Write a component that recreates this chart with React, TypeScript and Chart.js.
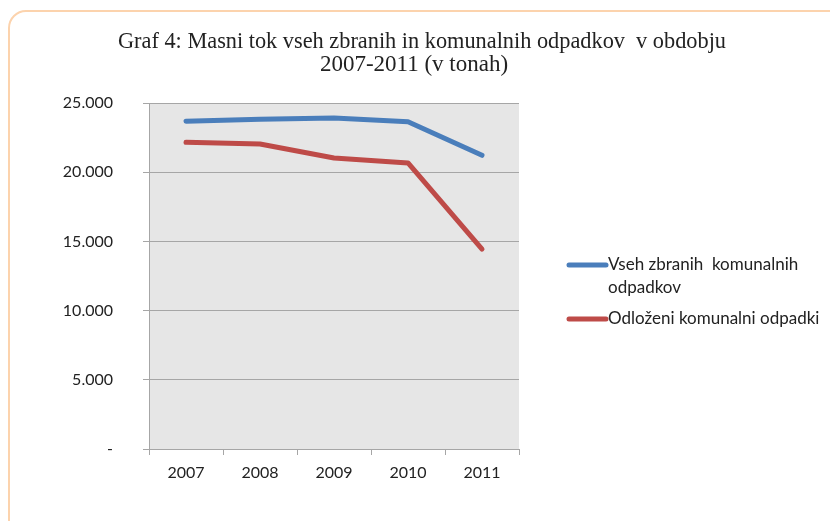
import React, { useEffect, useRef } from "react";
import { Chart, registerables } from "chart.js";

Chart.register(...registerables);

const categories = ["2007", "2008", "2009", "2010", "2011"];
const collectedLabel = "Vseh zbranih  komunalnih odpadkov";
const collected = [23680, 23820, 23920, 23640, 21220];
const landfilledLabel = "Odloženi komunalni odpadki";
const landfilled = [22160, 22040, 21030, 20670, 14450];
const titleLines = [
  "Graf 4: Masni tok vseh zbranih in komunalnih odpadkov  v obdobju",
  "2007-2011 (v tonah)",
];
const yMax = 25000;
const yStep = 5000;

const BLUE = "#4a7ebb";
const RED = "#be4b48";
const GRID = "#a6a6a6";
const TEXT = "#222222";
const FONT = "Lato";

function fmt(v: number): string {
  if (v === 0) return "-";
  return String(v).replace(/\B(?=(\d{3})+(?!\d))/g, ".");
}

const decorPlugin = {
  id: "decor",
  beforeDraw(chart: any) {
    const { ctx, chartArea } = chart;
    ctx.save();
    ctx.fillStyle = "#e6e6e6";
    ctx.fillRect(chartArea.left, chartArea.top, chartArea.right - chartArea.left, chartArea.bottom - chartArea.top);
    ctx.restore();
  },
  afterDraw(chart: any) {
    const { ctx } = chart;
    ctx.save();
    // title
    ctx.fillStyle = TEXT;
    ctx.font = `23px "Liberation Serif"`;
    ctx.textAlign = "center";
    ctx.textBaseline = "alphabetic";
    ctx.fillText(titleLines[0], 422, 48, 608);
    ctx.fillText(titleLines[1], 414, 71, 214);

    // legend
    ctx.font = `17px ${FONT}`;
    ctx.textAlign = "left";
    ctx.textBaseline = "middle";
    const items = chart.data.datasets.map((d: any) => ({ text: d.label, color: d.borderColor }));
    let y = 265;
    const maxW = 228;
    items.forEach((it: any) => {
      ctx.strokeStyle = it.color;
      ctx.lineWidth = 5;
      ctx.lineCap = "round";
      ctx.beginPath();
      ctx.moveTo(569, y);
      ctx.lineTo(606, y);
      ctx.stroke();
      const words = it.text.split(" ");
      const lines: string[] = [];
      let cur = "";
      words.forEach((w: string) => {
        const test = cur === "" ? w : cur + " " + w;
        if (ctx.measureText(test).width > maxW && cur !== "") {
          lines.push(cur);
          cur = w;
        } else cur = test;
      });
      if (cur) lines.push(cur);
      ctx.fillStyle = TEXT;
      lines.forEach((l, i) => ctx.fillText(l, 608, y + i * 23));
      y += (lines.length - 1) * 23 + 31;
    });
    ctx.restore();
  },
};

export default function App() {
  const ref = useRef<HTMLCanvasElement | null>(null);
  useEffect(() => {
    if (!ref.current) return;
    const chart = new Chart(ref.current, {
      type: "line",
      data: {
        labels: categories,
        datasets: [
          {
            label: collectedLabel,
            data: collected,
            borderColor: BLUE,
            backgroundColor: BLUE,
            borderWidth: 5,
            pointRadius: 0,
            borderCapStyle: "round",
            borderJoinStyle: "round",
            tension: 0,
          },
          {
            label: landfilledLabel,
            data: landfilled,
            borderColor: RED,
            backgroundColor: RED,
            borderWidth: 5,
            pointRadius: 0,
            borderCapStyle: "round",
            borderJoinStyle: "round",
            tension: 0,
          },
        ],
      },
      options: {
        responsive: false,
        animation: false,
        devicePixelRatio: 1,
        layout: { padding: { top: 103, left: 0, right: 311, bottom: 0 } },
        plugins: {
          legend: { display: false },
          title: { display: false },
          tooltip: { enabled: false },
        },
        scales: {
          x: {
            offset: true,
            grid: {
              offset: true,
              drawOnChartArea: false,
              drawTicks: true,
              tickLength: 6,
              color: GRID,
            },
            border: { display: true, color: GRID, width: 1 },
            ticks: { color: TEXT, font: { family: FONT, size: 16 }, padding: 8, maxRotation: 0 },
            afterFit: (s: any) => {
              s.height = 72;
            },
          },
          y: {
            min: 0,
            max: yMax,
            grid: { color: GRID, tickLength: 6, drawTicks: true },
            border: { display: true, color: GRID, width: 1 },
            ticks: {
              stepSize: yStep,
              color: TEXT,
              font: { family: FONT, size: 16 },
              padding: 30,
              callback: (v: any) => fmt(Number(v)),
            },
            afterFit: (s: any) => {
              s.width = 149;
            },
          },
        },
      },
      plugins: [decorPlugin],
    });
    return () => chart.destroy();
  }, []);

  return (
    <div style={{ position: "absolute", left: 0, top: 0, width: 830, height: 521, overflow: "hidden", background: "#fff" }}>
      <div
        style={{
          position: "absolute",
          left: 8,
          top: 10,
          width: 840,
          height: 600,
          border: "2px solid #fcd3ad",
          borderRadius: 18,
          boxSizing: "border-box",
        }}
      />
      <canvas ref={ref} width={830} height={521} style={{ position: "absolute", left: 0, top: 0, width: 830, height: 521 }} />
    </div>
  );
}
